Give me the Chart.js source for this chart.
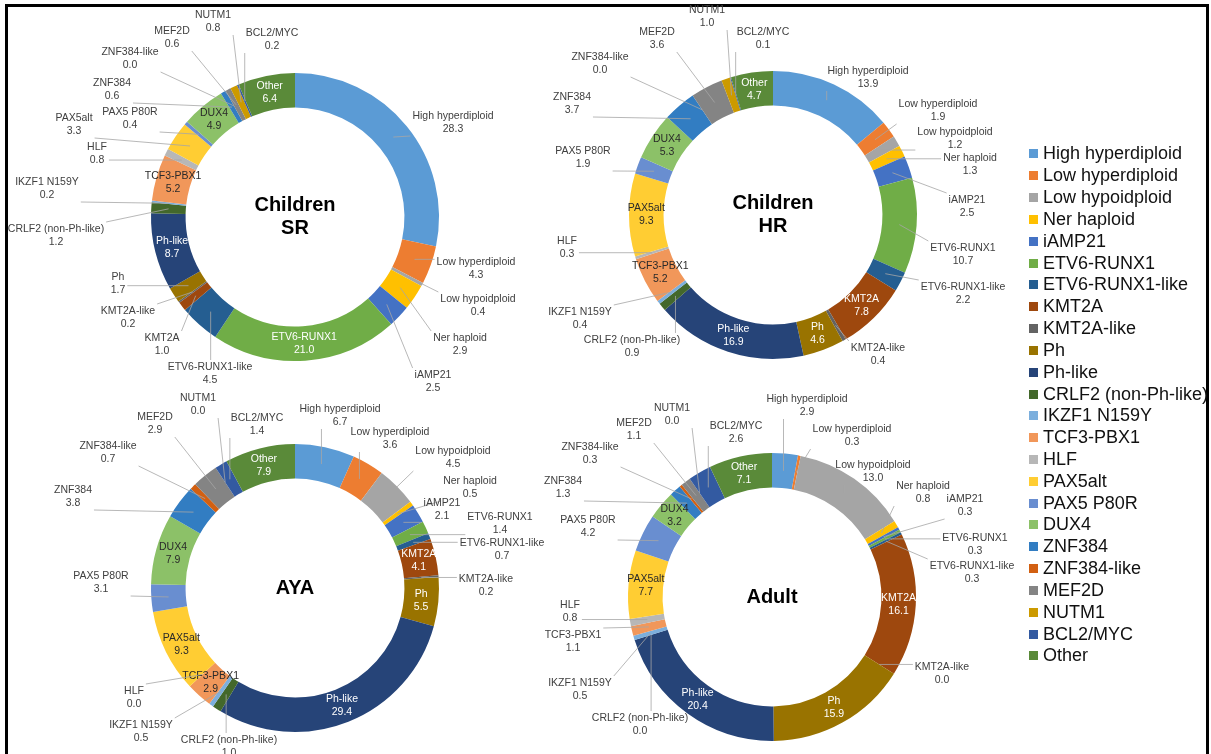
<!DOCTYPE html>
<html>
<head>
<meta charset="utf-8">
<script src="https://cdn.jsdelivr.net/npm/chart.js@4.4.0/dist/chart.umd.min.js"></script>
<style>
  html, body { margin:0; padding:0; background:#fff; }
  body { width:1211px; height:754px; overflow:hidden; position:relative; font-family:"Liberation Sans", Arial, sans-serif; }
  #frame { position:absolute; left:5px; top:4px; width:1198px; height:800px; border:3px solid #000; box-sizing:content-box; }
  canvas.pie { position:absolute; left:0; top:0; }
  #legend { position:absolute; left:1029px; top:143px; }
  .li { height:21.83px; display:flex; align-items:center; font-size:18px; color:#111; white-space:nowrap; }
  .sw { width:9px; height:9px; margin-right:5px; flex:none; }
</style>
</head>
<body>
<div id="frame"></div>
<canvas class="pie" id="c0" width="1211" height="754"></canvas>
<canvas class="pie" id="c1" width="1211" height="754"></canvas>
<canvas class="pie" id="c2" width="1211" height="754"></canvas>
<canvas class="pie" id="c3" width="1211" height="754"></canvas>
<div id="legend"></div>
<script>
// ---------- data ----------
const categories = ['High hyperdiploid','Low hyperdiploid','Low hypoidploid','Ner haploid','iAMP21','ETV6-RUNX1','ETV6-RUNX1-like','KMT2A','KMT2A-like','Ph','Ph-like','CRLF2 (non-Ph-like)','IKZF1 N159Y','TCF3-PBX1','HLF','PAX5alt','PAX5 P80R','DUX4','ZNF384','ZNF384-like','MEF2D','NUTM1','BCL2/MYC','Other'];
const childrenSR = [28.3,4.3,0.4,2.9,2.5,21.0,4.5,1.0,0.2,1.7,8.7,1.2,0.2,5.2,0.8,3.3,0.4,4.9,0.6,0.0,0.6,0.8,0.2,6.4];
const childrenHR = [13.9,1.9,1.2,1.3,2.5,10.7,2.2,7.8,0.4,4.6,16.9,0.9,0.4,5.2,0.3,9.3,1.9,5.3,3.7,0.0,3.6,1.0,0.1,4.7];
const aya        = [6.7,3.6,4.5,0.5,2.1,1.4,0.7,4.1,0.2,5.5,29.4,1.0,0.5,2.9,0.0,9.3,3.1,7.9,3.8,0.7,2.9,0.0,1.4,7.9];
const adult      = [2.9,0.3,13.0,0.8,0.3,0.3,0.3,16.1,0.0,15.9,20.4,0.0,0.5,1.1,0.8,7.7,4.2,3.2,1.3,0.3,1.1,0.0,2.6,7.1];
const panelTitles = [['Children','SR'],['Children','HR'],['AYA'],['Adult']];

// ---------- styles ----------
const colors = ['#5B9BD5','#ED7D31','#A5A5A5','#FFC000','#4472C4','#70AD47','#255E91','#9E480E','#636363','#997300','#264478','#43682B','#7CAFDD','#F1975A','#B7B7B7','#FFCD33','#698ED0','#8CC168','#327DC2','#D26012','#848484','#CC9A00','#335AA1','#5A8A39'];
const darkInside = ['DUX4','PAX5alt','TCF3-PBX1'];

// ---------- layout (label anchor positions, page px) ----------
const layouts = [
  { center:[295,217],
    inside:['ETV6-RUNX1','Ph-like','TCF3-PBX1','DUX4','Other'],
    labels:{'NUTM1':[213,15],'MEF2D':[172,31],'BCL2/MYC':[272,33],'ZNF384-like':[130,52],'ZNF384':[112,83],
      'PAX5 P80R':[130,112],'PAX5alt':[74,118],'HLF':[97,147],'IKZF1 N159Y':[47,182],'CRLF2 (non-Ph-like)':[56,229],
      'Ph':[118,277],'KMT2A-like':[128,311],'KMT2A':[162,338],'ETV6-RUNX1-like':[210,367],'iAMP21':[433,375],
      'Ner haploid':[460,338],'Low hypoidploid':[478,299],'Low hyperdiploid':[476,262],'High hyperdiploid':[453,116]}},
  { center:[773,215],
    inside:['KMT2A','Ph','Ph-like','TCF3-PBX1','PAX5alt','DUX4','Other'],
    labels:{'NUTM1':[707,10],'MEF2D':[657,32],'BCL2/MYC':[763,32],'ZNF384-like':[600,57],'ZNF384':[572,97],
      'PAX5 P80R':[583,151],'HLF':[567,241],'IKZF1 N159Y':[580,312],'CRLF2 (non-Ph-like)':[632,340],
      'KMT2A-like':[878,348],'ETV6-RUNX1-like':[963,287],'ETV6-RUNX1':[963,248],'iAMP21':[967,200],
      'Ner haploid':[970,158],'Low hypoidploid':[955,132],'Low hyperdiploid':[938,104],'High hyperdiploid':[868,71]}},
  { center:[295,588],
    inside:['KMT2A','Ph','Ph-like','TCF3-PBX1','PAX5alt','DUX4','Other'],
    labels:{'NUTM1':[198,398],'MEF2D':[155,417],'BCL2/MYC':[257,418],'ZNF384-like':[108,446],'ZNF384':[73,490],
      'PAX5 P80R':[101,576],'HLF':[134,691],'IKZF1 N159Y':[141,725],'CRLF2 (non-Ph-like)':[229,740],
      'High hyperdiploid':[340,409],'Low hyperdiploid':[390,432],'Low hypoidploid':[453,451],'Ner haploid':[470,481],
      'iAMP21':[442,503],'ETV6-RUNX1':[500,517],'ETV6-RUNX1-like':[502,543],'KMT2A-like':[486,579]}},
  { center:[772,597],
    inside:['KMT2A','Ph','Ph-like','PAX5alt','DUX4','Other'],
    labels:{'NUTM1':[672,408],'MEF2D':[634,423],'BCL2/MYC':[736,426],'ZNF384-like':[590,447],'ZNF384':[563,481],
      'PAX5 P80R':[588,520],'HLF':[570,605],'TCF3-PBX1':[573,635],'IKZF1 N159Y':[580,683],'CRLF2 (non-Ph-like)':[640,718],
      'High hyperdiploid':[807,399],'Low hyperdiploid':[852,429],'Low hypoidploid':[873,465],'Ner haploid':[923,486],
      'iAMP21':[965,499],'ETV6-RUNX1':[975,538],'ETV6-RUNX1-like':[972,566],'KMT2A-like':[942,667]}}
];
const seriesList = [childrenSR, childrenHR, aya, adult];
const RADIUS = 144;
const LABEL_FONT = '10.5px "Liberation Sans", Arial, sans-serif';
const LINE_GAP = 13;

function makeLabelPlugin(idx){
  const lay = layouts[idx];
  return {
    id:'sliceLabels'+idx,
    afterDatasetsDraw(chart){
      const ctx = chart.ctx;
      const meta = chart.getDatasetMeta(0);
      const vals = chart.data.datasets[0].data;
      ctx.save();
      ctx.font = LABEL_FONT;
      ctx.textAlign = 'center';
      ctx.textBaseline = 'middle';
      meta.data.forEach((arc, i) => {
        const p = arc.getProps(['x','y','startAngle','endAngle','innerRadius','outerRadius'], true);
        const mid = (p.startAngle + p.endAngle) / 2;
        const r = (p.innerRadius + p.outerRadius) / 2;
        const ax = p.x + Math.cos(mid) * r, ay = p.y + Math.sin(mid) * r;
        const name = chart.data.labels[i];
        const val = vals[i].toFixed(1);
        if (lay.inside.includes(name)) {
          ctx.fillStyle = darkInside.includes(name) ? '#2a2a2a' : '#ffffff';
          ctx.fillText(name, ax, ay - LINE_GAP/2);
          ctx.fillText(val, ax, ay + LINE_GAP/2);
          return;
        }
        const pos = lay.labels[name];
        if (!pos) return;
        const [lx, ly] = pos;
        const w = Math.max(ctx.measureText(name).width, ctx.measureText(val).width);
        const x0 = lx - w/2 - 2, x1 = lx + w/2 + 2, y0 = ly - 7, y1 = ly + LINE_GAP + 7;
        const ex = Math.min(Math.max(ax, x0), x1), ey = Math.min(Math.max(ay, y0), y1);
        ctx.strokeStyle = '#a6a6a6';
        ctx.lineWidth = 0.8;
        ctx.beginPath(); ctx.moveTo(ax, ay); ctx.lineTo(ex, ey); ctx.stroke();
        ctx.fillStyle = '#404040';
        ctx.fillText(name, lx, ly);
        ctx.fillText(val, lx, ly + LINE_GAP);
      });
      // centre title
      const c = meta.data[0];
      const t = panelTitles[idx];
      ctx.font = 'bold 20px "Liberation Sans", Arial, sans-serif';
      ctx.fillStyle = '#000';
      t.forEach((s, k) => ctx.fillText(s, c.x, c.y + (k - (t.length-1)/2) * 23));
      ctx.restore();
    }
  };
}

seriesList.forEach((values, idx) => {
  const [cx, cy] = layouts[idx].center;
  const W = 1211, H = 754, half = 150;
  new Chart(document.getElementById('c'+idx), {
    type:'doughnut',
    data:{ labels:categories, datasets:[{ data:values, backgroundColor:colors, borderWidth:0 }] },
    options:{
      responsive:false, animation:false,
      radius:RADIUS, cutout:'76%',
      layout:{ padding:{ left:cx-half, right:W-cx-half, top:cy-half, bottom:H-cy-half } },
      plugins:{ legend:{display:false}, tooltip:{enabled:false} }
    },
    plugins:[makeLabelPlugin(idx)]
  });
});

// legend
const lg = document.getElementById('legend');
categories.forEach((c, i) => {
  const d = document.createElement('div'); d.className = 'li';
  const s = document.createElement('span'); s.className = 'sw'; s.style.background = colors[i];
  const t = document.createElement('span'); t.textContent = c;
  d.appendChild(s); d.appendChild(t); lg.appendChild(d);
});
</script>
</body>
</html>
